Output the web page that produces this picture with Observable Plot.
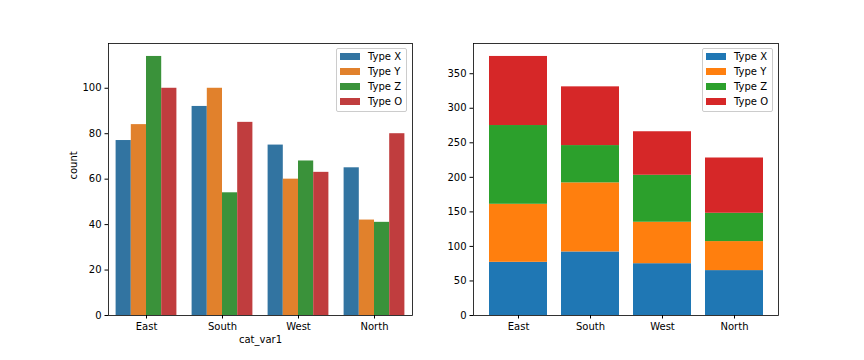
<!DOCTYPE html>
<html>
<head>
<meta charset="utf-8">
<script src="https://cdn.jsdelivr.net/npm/d3@7"></script>
<script src="https://cdn.jsdelivr.net/npm/@observablehq/plot@0.6"></script>
<style>
  html, body { margin: 0; padding: 0; background: white; }
  #fig { position: relative; width: 864px; height: 360px; background: white; font-family: "DejaVu Sans", sans-serif; font-size: 10px; color: black; }
  #fig > svg { position: absolute; top: 0; }
  .legend { position: absolute; background: rgba(255,255,255,0.8); border: 1px solid #cccccc; border-radius: 2px; padding: 0 4px 2px 3px; }
  .legend .row { display: flex; align-items: center; height: 15px; white-space: nowrap; }
  .legend .sw { width: 20px; height: 7px; margin-right: 8px; }
</style>
</head>
<body>
<div id="fig"></div>
<script>
const regions = ["East", "South", "West", "North"];
const types = ["Type X", "Type Y", "Type Z", "Type O"];
const countX = [77, 92, 75, 65];
const countY = [84, 100, 60, 42];
const countZ = [114, 54, 68, 41];
const countO = [100, 85, 63, 80];
const leftColors = ["#3274a1", "#e1812c", "#3a923a", "#c03d3e"];
const rightColors = ["#1f77b4", "#ff7f0e", "#2ca02c", "#d62728"];
const leftTicks = [0, 20, 40, 60, 80, 100];
const rightTicks = [0, 50, 100, 150, 200, 250, 300, 350];

const series = [countX, countY, countZ, countO];
const data = types.flatMap((t, j) => regions.map((r, i) => ({region: r, type: t, value: series[j][i]})));

const groupWidth = 0.8;
const subW = groupWidth / types.length;
const xStart = d => regions.indexOf(d.region) - groupWidth / 2 + types.indexOf(d.type) * subW;

const fig = document.getElementById("fig");
const baseStyle = {fontFamily: "DejaVu Sans", fontSize: "10px", color: "black", background: "white", overflow: "visible"};

const left = Plot.plot({
  width: 432, height: 360,
  marginLeft: 108, marginRight: 20, marginTop: 43, marginBottom: 45,
  style: baseStyle,
  x: {domain: [-0.5, 3.5], ticks: [0, 1, 2, 3], tickFormat: i => regions[i], tickSize: 3.5, tickPadding: 3.5, label: null},
  y: {domain: [0, 119.7], ticks: leftTicks, tickSize: 3.5, tickPadding: 3.5, label: null},
  color: {domain: types, range: leftColors},
  marks: [
    Plot.rectY(data, {x1: xStart, x2: d => xStart(d) + subW, y1: 0, y2: "value", fill: "type"}),
    Plot.frame({stroke: "black", strokeWidth: 0.8}),
    Plot.text(["count"], {text: d => d, frameAnchor: "left", dx: -35, rotate: -90, fontSize: 10}),
    Plot.text(["cat_var1"], {text: d => d, frameAnchor: "bottom", dy: 27, fontSize: 10})
  ]
});
left.style.left = "0px";
fig.appendChild(left);

const right = Plot.plot({
  width: 432, height: 360,
  marginLeft: 41, marginRight: 86, marginTop: 43, marginBottom: 45,
  style: baseStyle,
  x: {domain: regions, paddingInner: 0.2, paddingOuter: 0.19, tickSize: 3.5, tickPadding: 3.5, label: null},
  y: {domain: [0, 393.75], ticks: rightTicks, tickSize: 3.5, tickPadding: 3.5, label: null},
  color: {domain: types, range: rightColors},
  marks: [
    Plot.barY(data, {x: "region", y: "value", fill: "type"}),
    Plot.frame({stroke: "black", strokeWidth: 0.8})
  ]
});
right.style.left = "432px";
fig.appendChild(right);

function legend(colors, leftPx) {
  const box = document.createElement("div");
  box.className = "legend";
  box.style.left = leftPx + "px";
  box.style.top = "48px";
  types.forEach((t, j) => {
    const row = document.createElement("div");
    row.className = "row";
    const sw = document.createElement("div");
    sw.className = "sw";
    sw.style.background = colors[j];
    const lab = document.createElement("span");
    lab.textContent = t;
    row.appendChild(sw);
    row.appendChild(lab);
    box.appendChild(row);
  });
  fig.appendChild(box);
}
legend(leftColors, 336);
legend(rightColors, 702);
</script>
</body>
</html>
